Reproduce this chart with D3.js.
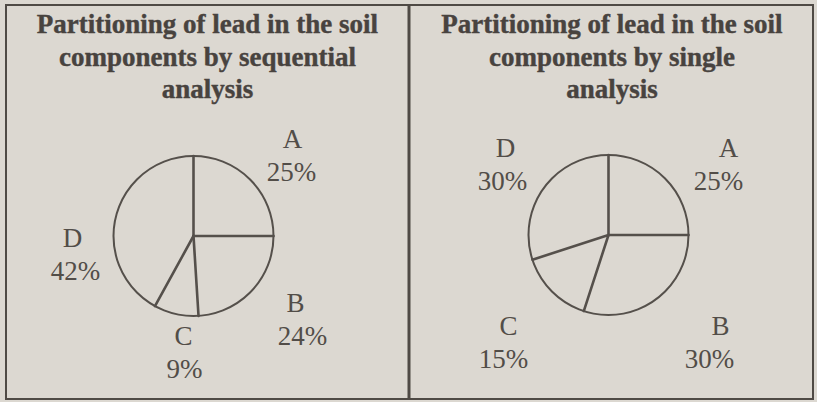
<!DOCTYPE html>
<html>
<head>
<meta charset="utf-8">
<script src="https://cdn.jsdelivr.net/npm/d3@7"></script>
<style>
  html, body { margin: 0; padding: 0; background: #dcd8d1; }
  svg { display: block; }
  .title { font-family: "Liberation Serif", "Times New Roman", serif; font-weight: bold; font-size: 27px; fill: #48433f; stroke: #48433f; stroke-width: 0.4px; }
  .lab { font-family: "Liberation Serif", "Times New Roman", serif; font-size: 27px; fill: #524d48; }
</style>
</head>
<body>
<div id="chart"></div>
<script>
var categories = ["A", "B", "C", "D"];
var sequentialValues = [25, 24, 9, 42];
var singleValues = [25, 30, 15, 30];
var sequentialTitle = ["Partitioning of lead in the soil", "components by sequential", "analysis"];
var singleTitle = ["Partitioning of lead in the soil", "components by single", "analysis"];

var width = 817, height = 402;
var radius = 80;
var ink = "#55504b";

// label placement relative to the pie centre: [name dx, pct dx, name baseline dy]
var seqLabelPos = [[99, 98, -88], [102, 109, 76], [-10, -9, 109], [-121, -118, 11]];
var singleLabelPos = [[120, 110, -78], [112, 101, 100], [-100, -105, 100], [-103, -106, -78]];

var svg = d3.select("#chart").append("svg")
  .attr("width", width)
  .attr("height", height)

svg.append("rect")
  .attr("width", width).attr("height", height)
  .attr("fill", "#dcd8d1")

// table frame
svg.append("rect")
  .attr("x", 6).attr("y", 5)
  .attr("width", 807).attr("height", 394)
  .attr("fill", "none")
  .attr("stroke", "#4f4a45")
  .attr("stroke-width", 2)
svg.append("line")
  .attr("x1", 409).attr("x2", 409)
  .attr("y1", 5).attr("y2", 399)
  .attr("stroke", "#4f4a45")
  .attr("stroke-width", 3)

var pie = d3.pie()
  .sort(null)
  .value(function(d){ return d.value; });

function drawPanel(cx, titleCx, cy, title, values, labelPos){
  var g = svg.append("g")

  g.selectAll(".title")
    .data(title)
    .enter().append("text")
      .attr("class", "title")
      .attr("x", titleCx)
      .attr("y", function(d, i){ return 33 + i * 32.5; })
      .attr("text-anchor", "middle")
      .text(function(d){ return d; })

  var data = categories.map(function(c, i){ return {cat: c, value: values[i]}; });
  var arcs = pie(data);

  var pg = g.append("g").attr("transform", "translate(" + cx + "," + cy + ")")

  pg.append("circle")
    .attr("r", radius)
    .attr("fill", "none")
    .attr("stroke", ink)
    .attr("stroke-width", 2)

  pg.selectAll(".spoke")
    .data(arcs)
    .enter().append("line")
      .attr("class", "spoke")
      .attr("x1", 0).attr("y1", 0)
      .attr("x2", function(d){ return d3.pointRadial(d.startAngle, radius)[0]; })
      .attr("y2", function(d){ return d3.pointRadial(d.startAngle, radius)[1]; })
      .attr("stroke", ink)
      .attr("stroke-width", 2.6)
      .attr("stroke-linecap", "round")

  var lab = pg.selectAll(".labGroup")
    .data(arcs)
    .enter().append("g")
      .attr("class", "labGroup")

  lab.append("text")
    .attr("class", "lab")
    .attr("text-anchor", "middle")
    .attr("x", function(d, i){ return labelPos[i][0]; })
    .attr("y", function(d, i){ return labelPos[i][2]; })
    .text(function(d){ return d.data.cat; })

  lab.append("text")
    .attr("class", "lab")
    .attr("text-anchor", "middle")
    .attr("x", function(d, i){ return labelPos[i][1]; })
    .attr("y", function(d, i){ return labelPos[i][2] + 33; })
    .text(function(d){ return d.data.value + "%"; })
}

drawPanel(193.5, 207.5, 236, sequentialTitle, sequentialValues, seqLabelPos);
drawPanel(608.5, 612, 235, singleTitle, singleValues, singleLabelPos);
</script>
</body>
</html>
